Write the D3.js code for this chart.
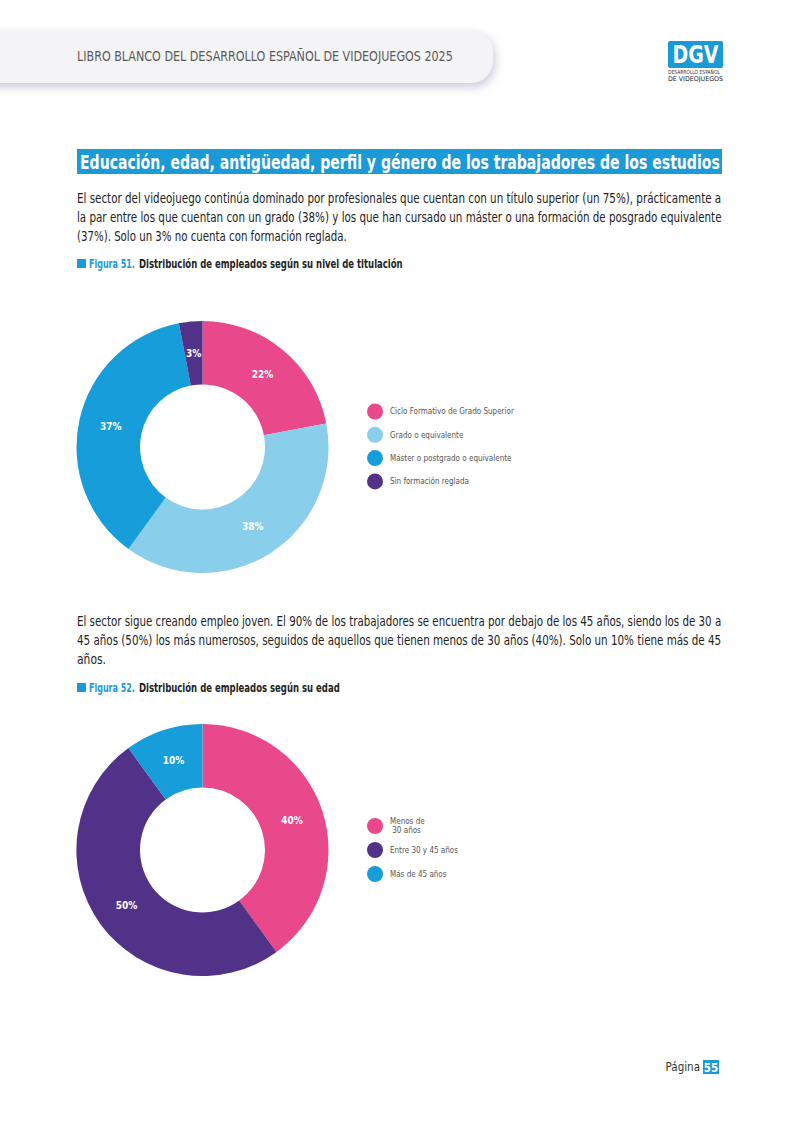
<!DOCTYPE html>
<html>
<head>
<meta charset="utf-8">
<script src="https://cdn.jsdelivr.net/npm/d3@7"></script>
<style>
  body { margin: 0; background: #fff; }
  svg { display: block; }
  text { font-family: "Liberation Sans Narrow", "DejaVu Sans Condensed", "Roboto Condensed", Roboto, "Open Sans", sans-serif; }
</style>
</head>
<body>
<div id="page"></div>
<script>
// ---- data ----
var eduLabels = ["Ciclo Formativo de Grado Superior", "Grado o equivalente", "Máster o postgrado o equivalente", "Sin formación reglada"];
var eduValues = [22, 38, 37, 3];
var eduColors = ["#e9488a", "#89cfec", "#179dd9", "#513288"];

var ageLabels = [["Menos de", " 30 años"], ["Entre 30 y 45 años"], ["Más de 45 años"]];
var ageValues = [40, 50, 10];
var ageColors = ["#e9488a", "#513288", "#179dd9"];

var headerText = "LIBRO BLANCO DEL DESARROLLO ESPAÑOL DE VIDEOJUEGOS 2025";
var titleText = "Educación, edad, antigüedad, perfil y género de los trabajadores de los estudios";
var para1 = [
  "El sector del videojuego continúa dominado por profesionales que cuentan con un título superior (un 75%), prácticamente a",
  "la par entre los que cuentan con un grado (38%) y los que han cursado un máster o una formación de posgrado equivalente",
  "(37%). Solo un 3% no cuenta con formación reglada."
];
var para2 = [
  "El sector sigue creando empleo joven. El 90% de los trabajadores se encuentra por debajo de los 45 años, siendo los de 30 a",
  "45 años (50%) los más numerosos, seguidos de aquellos que tienen menos de 30 años (40%). Solo un 10% tiene más de 45",
  "años."
];
var blue = "#1a9ad6";

var W = 800, H = 1131;
var svg = d3.select("#page").append("svg").attr("width", W).attr("height", H);

// squeeze a text horizontally so it spans the given width (condensed look)
function fitText(x, y, width, str, size, weight, fill) {
  var t = svg.append("text").attr("x", 0).attr("y", 0)
    .attr("font-size", size).attr("font-weight", weight || "normal").attr("fill", fill).text(str);
  var w0 = t.node().getComputedTextLength();
  var sx = w0 > 0 ? width / w0 : 1;
  t.attr("transform", "translate(" + x + "," + y + ") scale(" + sx + ",1)");
  return t;
}

var defs = svg.append("defs");
var f = defs.append("filter").attr("id", "shadow")
  .attr("x", "-10%").attr("y", "-40%").attr("width", "130%").attr("height", "200%");
f.append("feDropShadow").attr("dx", 2).attr("dy", 4).attr("stdDeviation", 5)
  .attr("flood-color", "#8a8aa8").attr("flood-opacity", 0.45);

// header pill
svg.append("rect")
  .attr("x", -40).attr("y", 30).attr("width", 533).attr("height", 53).attr("rx", 22)
  .attr("fill", "#f4f4f6").attr("filter", "url(#shadow)");
fitText(77, 61, 376, headerText, 13.5, "normal", "#5a5a5a");

// logo
svg.append("rect").attr("x", 668).attr("y", 41).attr("width", 55).attr("height", 27).attr("rx", 2).attr("fill", blue);
fitText(672.5, 63, 46, "DGV", 24, "bold", "#fff");
fitText(668, 74, 52, "DESARROLLO ESPAÑOL", 5.5, "normal", "#333");
fitText(668, 80.5, 55, "DE VIDEOJUEGOS", 6.5, "normal", "#222");

// section title
svg.append("rect").attr("x", 77).attr("y", 149).attr("width", 645).attr("height", 25).attr("fill", blue);
fitText(80, 169, 640, titleText, 20, "bold", "#fff");

function paragraph(lines, y0, step, lastWidth) {
  lines.forEach(function(l, i) {
    var w = i < lines.length - 1 ? 645 : lastWidth;
    fitText(77, y0 + i * step, w, l, 13.8, "normal", "#222");
  });
}
paragraph(para1, 203, 19.2, 270);
paragraph(para2, 626, 19, 29);

function caption(num, txt, y, w) {
  svg.append("rect").attr("x", 77).attr("y", y - 9).attr("width", 9).attr("height", 9).attr("fill", blue);
  fitText(89, y, 46, num, 11.5, "bold", blue);
  fitText(139, y, w, txt, 11.5, "bold", "#222");
}
caption("Figura 51.", "Distribución de empleados según su nivel de titulación", 268, 264);
caption("Figura 52.", "Distribución de empleados según su edad", 692, 201);

// donuts
var pie = d3.pie().sort(null).value(function(d) { return d; }).startAngle(0).endAngle(2 * Math.PI);
var arc = d3.arc().innerRadius(62.5).outerRadius(126);
var labelArc = d3.arc().innerRadius(94).outerRadius(94);

function donut(values, colors, cx, cy) {
  var g = svg.append("g").attr("transform", "translate(" + cx + "," + cy + ")");
  var arcs = pie(values);
  g.selectAll("path").data(arcs).enter().append("path")
    .attr("d", arc)
    .attr("fill", function(d, i) { return colors[i]; });
  g.selectAll("text").data(arcs).enter().append("text")
    .attr("transform", function(d) { return "translate(" + labelArc.centroid(d) + ")"; })
    .attr("text-anchor", "middle").attr("dy", "0.35em")
    .attr("font-size", 10).attr("font-weight", "bold").attr("fill", "#fff")
    .text(function(d) { return d.data + "%"; });
}
donut(eduValues, eduColors, 202.5, 447);
donut(ageValues, ageColors, 202.5, 850);

function legend(labels, colors, y0, step) {
  var g = svg.append("g");
  var item = g.selectAll("g").data(labels).enter().append("g")
    .attr("transform", function(d, i) { return "translate(375," + (y0 + i * step) + ")"; });
  item.append("circle").attr("r", 8).attr("fill", function(d, i) { return colors[i]; });
  item.each(function(d) {
    var t = d3.select(this).append("text").attr("x", 15).attr("font-size", 8).attr("fill", "#555");
    var lines = Array.isArray(d) ? d : [d];
    lines.forEach(function(l, j) {
      t.append("tspan").attr("x", 15)
        .attr("y", (j - (lines.length - 1) / 2) * 9)
        .attr("dy", "0.35em").text(l);
    });
  });
}
legend(eduLabels, eduColors, 411.5, 23.3);
legend(ageLabels, ageColors, 826, 24);

// footer
svg.append("text").attr("x", 700).attr("y", 1071).attr("text-anchor", "end")
  .attr("font-size", 11.5).attr("fill", "#333").text("Página");
svg.append("rect").attr("x", 703).attr("y", 1060).attr("width", 16).attr("height", 14).attr("fill", blue);
svg.append("text").attr("x", 711).attr("y", 1071.5).attr("text-anchor", "middle")
  .attr("font-size", 11.5).attr("font-weight", "bold").attr("fill", "#fff").text("55");
</script>
</body>
</html>
